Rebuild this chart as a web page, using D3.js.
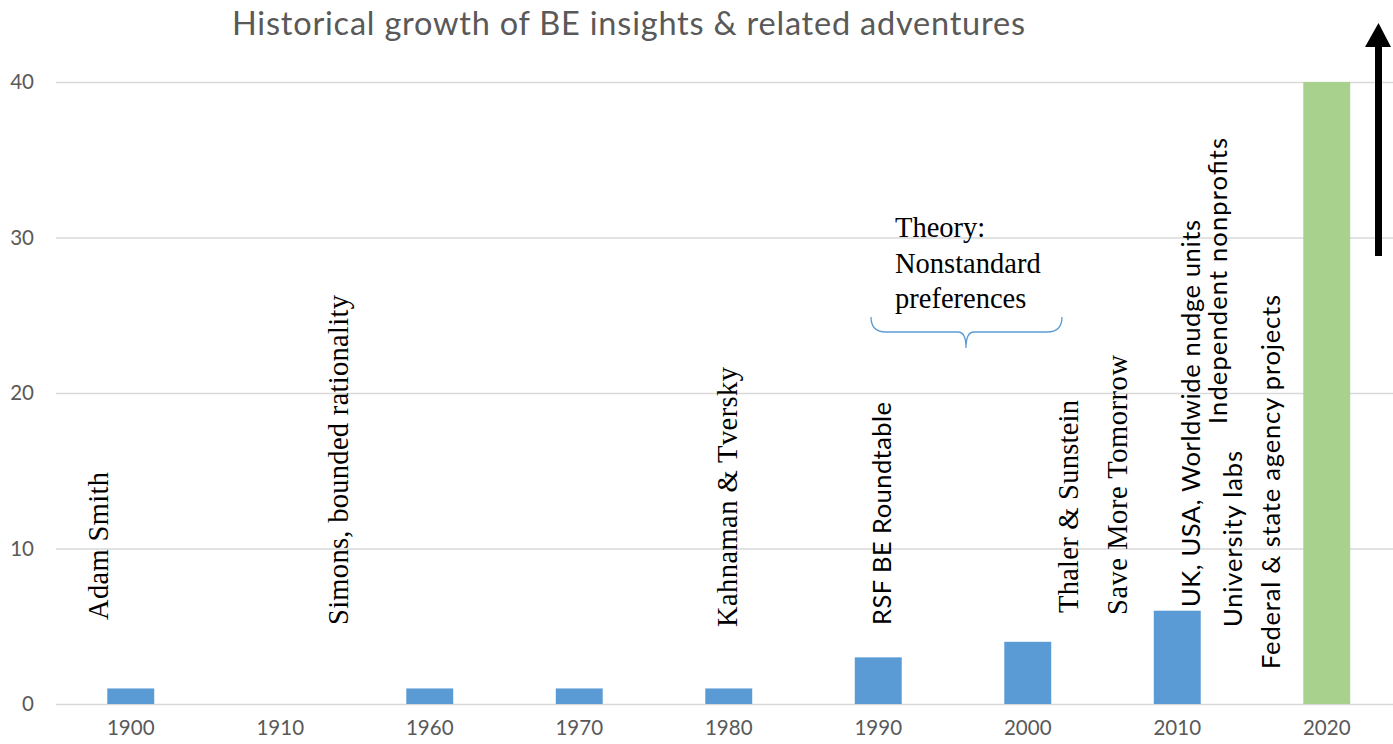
<!DOCTYPE html>
<html lang="en">
<head>
<meta charset="utf-8">
<title>Historical growth of BE insights</title>
<script src="https://cdn.jsdelivr.net/npm/d3@7"></script>
<style>
  body { margin: 0; background: #fff; }
  svg { display: block; }
</style>
</head>
<body>
<script>
var w = 1393;
var h = 744;

var categories = ["1900", "1910", "1960", "1970", "1980", "1990", "2000", "2010", "2020"];
var values = [1, 0, 1, 1, 1, 3, 4, 6, 40];
var barColors = ["#5b9bd5", "#5b9bd5", "#5b9bd5", "#5b9bd5", "#5b9bd5", "#5b9bd5", "#5b9bd5", "#5b9bd5", "#a9d18e"];
var yTicks = [0, 10, 20, 30, 40];

// rotated notes: category they sit next to, offset from its centre, bottom y, ink length
var notes = [
  { text: "Adam Smith", cat: "1900", dx: -23, y: 620, len: 148, serif: true },
  { text: "Simons, bounded rationality", cat: "1910", dx: 68, y: 625, len: 330, serif: true },
  { text: "Kahnaman & Tversky", cat: "1980", dx: 8, y: 627, len: 260, serif: true },
  { text: "RSF BE Roundtable", cat: "1990", dx: 13, y: 625, len: 223, serif: false },
  { text: "Thaler & Sunstein", cat: "2000", dx: 50, y: 613, len: 213, serif: true },
  { text: "Save More Tomorrow", cat: "2000", dx: 99, y: 615, len: 260, serif: true },
  { text: "UK, USA, Worldwide nudge units", cat: "2010", dx: 23, y: 607, len: 387, serif: false },
  { text: "Independent nonprofits", cat: "2010", dx: 50, y: 424, len: 286, serif: false },
  { text: "University labs", cat: "2010", dx: 65, y: 627, len: 176, serif: false },
  { text: "Federal & state agency projects", cat: "2010", dx: 103, y: 669, len: 374, serif: false }
];
var theoryLines = ["Theory:", "Nonstandard", "preferences"];

var sans = "Lato, 'Open Sans', sans-serif";
var serif = "'Liberation Serif', 'Times New Roman', serif";

var svg = d3.select("body").append("svg")
  .attr("width", w)
  .attr("height", h);

var x = d3.scaleBand()
  .domain(categories)
  .range([56, 1401.5])
  .paddingInner(0.686)
  .paddingOuter(0.343);

var y = d3.scaleLinear()
  .domain([0, 40])
  .range([704, 82]);

// gridlines
svg.append("g")
  .selectAll("line")
  .data(yTicks)
  .enter().append("line")
  .attr("x1", 56)
  .attr("x2", w)
  .attr("y1", function(d) { return y(d) + 0.5; })
  .attr("y2", function(d) { return y(d) + 0.5; })
  .attr("stroke", "#d9d9d9")
  .attr("stroke-width", 1.3);

svg.append("g")
  .selectAll("text")
  .data(yTicks)
  .enter().append("text")
  .attr("x", 34)
  .attr("y", function(d) { return y(d); })
  .attr("dy", "0.36em")
  .attr("text-anchor", "end")
  .attr("font-family", sans)
  .attr("font-size", "20.5px")
  .attr("fill", "#595959")
  .text(function(d) { return d; });

svg.append("g")
  .selectAll("rect")
  .data(values)
  .enter().append("rect")
  .attr("x", function(d, i) { return x(categories[i]); })
  .attr("y", function(d) { return y(d); })
  .attr("width", x.bandwidth())
  .attr("height", function(d) { return y(0) - y(d); })
  .attr("fill", function(d, i) { return barColors[i]; });

var xAxis = d3.axisBottom(x).tickSize(0).tickPadding(16);
var gx = svg.append("g")
  .attr("transform", "translate(0," + y(0) + ")")
  .call(xAxis);
gx.select(".domain").remove();
gx.selectAll("text")
  .attr("font-family", sans)
  .attr("font-size", "20.5px")
  .attr("fill", "#595959");

svg.append("text")
  .attr("x", 232)
  .attr("y", 35)
  .attr("font-family", sans)
  .attr("font-size", "32.5px")
  .attr("fill", "#595959")
  .attr("textLength", 793)
  .text("Historical growth of BE insights & related adventures");

svg.append("g")
  .selectAll("text")
  .data(notes)
  .enter().append("text")
  .attr("transform", function(d) {
    return "translate(" + (x(d.cat) + x.bandwidth() / 2 + d.dx) + "," + d.y + ") rotate(-90)";
  })
  .attr("font-family", function(d) { return d.serif ? serif : sans; })
  .attr("font-size", function(d) { return d.serif ? "28.5px" : "25.5px"; })
  .attr("fill", "#000")
  .attr("textLength", function(d) { return d.len; })
  .text(function(d) { return d.text; });

svg.append("g")
  .selectAll("text")
  .data(theoryLines)
  .enter().append("text")
  .attr("x", 895)
  .attr("y", function(d, i) { return 237 + i * 35.5; })
  .attr("font-family", serif)
  .attr("font-size", "28.5px")
  .attr("fill", "#000")
  .text(function(d) { return d; });

// brace under the theory note
svg.append("path")
  .attr("d", "M871,317 Q871,332 886,332 L958,332 Q966,332 966,348 Q966,332 974,332 L1047,332 Q1062,332 1062,317")
  .attr("fill", "none")
  .attr("stroke", "#5b9bd5")
  .attr("stroke-width", 1.3);

// growth arrow
svg.append("path")
  .attr("d", "M1375,256 L1375,47 L1365,47 L1378.5,23 L1391,47 L1382,47 L1382,256 Z")
  .attr("fill", "#000");
</script>
</body>
</html>
